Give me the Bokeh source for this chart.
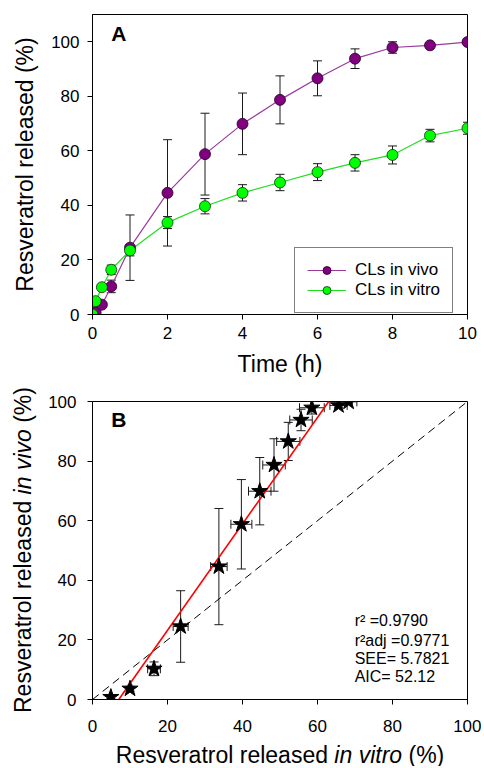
import math
from bokeh.plotting import figure
from bokeh.models import (Range1d, Whisker, TeeHead, ColumnDataSource, Label,
                          Legend, LegendItem, FixedTicker, Div)
from bokeh.layouts import column, row
from bokeh.embed import file_html
from bokeh.resources import INLINE

# ---------------- data ----------------
time_h = [0, 0.083, 0.25, 0.5, 1, 2, 3, 4, 5, 6, 7, 8, 9, 10]
invivo = [0, 0.8, 3.6, 10.3, 24.5, 44.6, 58.8, 69.9, 78.7, 86.6, 93.8, 97.9, 98.7, 99.9]
invivo_sd = [0, 0.5, 0.8, 2.3, 12.0, 19.5, 15.0, 11.3, 8.8, 6.4, 3.6, 2.1, 0.6, 0.5]
invitro = [0, 4.9, 10.0, 16.4, 23.5, 33.7, 39.7, 44.6, 48.4, 52.2, 55.6, 58.5, 65.6, 68.3]
invitro_sd = [0, 0.4, 0.5, 1.7, 2.0, 2.2, 2.8, 3.0, 3.0, 3.1, 3.0, 3.3, 2.3, 2.2]

fit_x = [7.0, 63.0]
fit_y = [0.0, 100.0]
ident_x = [0, 100]
ident_y = [0, 100]

stats_lines = ["r\u00b2 =0.9790", "r\u00b2adj =0.9771", "SEE= 5.7821", "AIC= 52.12"]
stats_y = [26.5, 19.8, 13.8, 7.7]

yticks = [0, 20, 40, 60, 80, 100]
xticks_a = [0, 2, 4, 6, 8, 10]
xticks_b = [0, 20, 40, 60, 80, 100]

FONT = "Liberation Sans"
TICK_FS = "17px"
LAB_FS = 23
PURPLE = "#800080"
GREEN = "#00ff00"
ERR = "#1a1a1a"

# Arial / Liberation Sans advance widths (per 1000 em)
CW = {"R": 722, "e": 556, "s": 500, "v": 500, "r": 333, "a": 556, "t": 278,
      "o": 556, "l": 222, "d": 556, "i": 222, "n": 556, " ": 278, "(": 333,
      ")": 333, "%": 889}


def tw(s, size=LAB_FS):
    return sum(CW.get(c, 556) for c in s) * size / 1000.0


def style_axes(p):
    p.grid.visible = False
    p.outline_line_color = "black"
    p.outline_line_width = 1
    p.background_fill_color = "white"
    p.border_fill_color = "white"
    for ax in p.axis:
        ax.axis_line_color = "black"
        ax.major_tick_line_color = "black"
        ax.minor_tick_line_color = None
        ax.major_tick_in = 0
        ax.major_tick_out = 5
        ax.major_label_text_font = FONT
        ax.major_label_text_font_size = TICK_FS
        ax.major_label_text_color = "black"
        ax.axis_label_text_font = FONT
        ax.axis_label_text_font_size = f"{LAB_FS}px"
        ax.axis_label_text_font_style = "normal"
        ax.axis_label_text_color = "black"


# ---------------- Panel A ----------------
pA = figure(frame_width=375, frame_height=300, x_range=Range1d(0, 10),
            y_range=Range1d(0, 110), output_backend="svg", toolbar_location=None,
            min_border_left=92, min_border_right=14, min_border_top=14,
            min_border_bottom=66)
style_axes(pA)
pA.xaxis.ticker = FixedTicker(ticks=xticks_a)
pA.yaxis.ticker = FixedTicker(ticks=yticks)
pA.xaxis.axis_label = "Time (h)"
pA.yaxis.axis_label = "Resveratrol released (%)"
pA.xaxis.major_label_standoff = 7
pA.xaxis.axis_label_standoff = 9
pA.yaxis.major_label_standoff = 8
pA.yaxis.axis_label_standoff = 10

src = ColumnDataSource(dict(
    t=time_h, vivo=invivo, vitro=invitro,
    vivo_up=[a + b for a, b in zip(invivo, invivo_sd)],
    vivo_lo=[a - b for a, b in zip(invivo, invivo_sd)],
    vitro_up=[a + b for a, b in zip(invitro, invitro_sd)],
    vitro_lo=[a - b for a, b in zip(invitro, invitro_sd)],
))

for up, lo in (("vivo_up", "vivo_lo"), ("vitro_up", "vitro_lo")):
    pA.add_layout(Whisker(base="t", upper=up, lower=lo, dimension="height",
                          source=src, line_color=ERR, line_width=1,
                          upper_head=TeeHead(size=9, line_color=ERR, line_width=1),
                          lower_head=TeeHead(size=9, line_color=ERR, line_width=1)))

lv = pA.line("t", "vivo", source=src, line_color="#9a3a9a", line_width=1.2)
lt = pA.line("t", "vitro", source=src, line_color="#22dd22", line_width=1.2)
sv = pA.scatter("t", "vivo", source=src, size=11, fill_color=PURPLE,
                line_color="#200020", line_width=0.8)
st = pA.scatter("t", "vitro", source=src, size=11, fill_color=GREEN,
                line_color="#103010", line_width=0.8)

legend = Legend(items=[LegendItem(label="CLs in vivo", renderers=[lv, sv]),
                       LegendItem(label="CLs in vitro", renderers=[lt, st])],
                location=(202, 1), orientation="vertical",
                border_line_color="black", border_line_width=1,
                background_fill_color="white", background_fill_alpha=1,
                label_text_font=FONT, label_text_font_size="17px",
                label_text_color="black",
                glyph_width=39, glyph_height=20, label_height=20,
                label_standoff=9, padding=12, spacing=0, margin=0)
pA.add_layout(legend)

pA.add_layout(Label(x=0.5, y=103.2, text="A", text_font=FONT,
                    text_font_size="21px", text_font_style="bold",
                    text_color="black",
                    text_baseline="middle", text_align="left"))

# ---------------- Panel B ----------------
FH_B = 298
B_TOP, B_BOT, B_LEFT = 21, 42, 48
pB = figure(frame_width=375, frame_height=FH_B, x_range=Range1d(0, 100),
            y_range=Range1d(0, 100), output_backend="svg", toolbar_location=None,
            min_border_left=B_LEFT, min_border_right=14, min_border_top=B_TOP,
            min_border_bottom=B_BOT)
style_axes(pB)
pB.xaxis.ticker = FixedTicker(ticks=xticks_b)
pB.yaxis.ticker = FixedTicker(ticks=yticks)
pB.xaxis.major_label_standoff = 15
pB.yaxis.major_label_standoff = 11

srcB = ColumnDataSource(dict(
    x=invitro[1:], y=invivo[1:],
    xl=[a - b for a, b in zip(invitro[1:], invitro_sd[1:])],
    xu=[a + b for a, b in zip(invitro[1:], invitro_sd[1:])],
    yl=[a - b for a, b in zip(invivo[1:], invivo_sd[1:])],
    yu=[a + b for a, b in zip(invivo[1:], invivo_sd[1:])],
))

pB.line(ident_x, ident_y, line_color="black", line_width=1, line_dash="8 5")
pB.add_layout(Whisker(base="x", upper="yu", lower="yl", dimension="height",
                      source=srcB, line_color=ERR, line_width=1,
                      upper_head=TeeHead(size=9, line_color=ERR, line_width=1),
                      lower_head=TeeHead(size=9, line_color=ERR, line_width=1)))
pB.add_layout(Whisker(base="y", upper="xu", lower="xl", dimension="width",
                      source=srcB, line_color=ERR, line_width=1,
                      upper_head=TeeHead(size=9, line_color=ERR, line_width=1),
                      lower_head=TeeHead(size=9, line_color=ERR, line_width=1)))
pB.line(fit_x, fit_y, line_color="red", line_width=1.6)
pB.scatter("x", "y", source=srcB, marker="star", size=17, fill_color="black",
           line_color="black")

pB.add_layout(Label(x=5, y=94, text="B", text_font=FONT, text_font_size="21px",
                    text_font_style="bold", text_color="black",
                    text_baseline="middle", text_align="left"))

for txt, yy in zip(stats_lines, stats_y):
    pB.add_layout(Label(x=69.9, y=yy, text=txt, text_font=FONT,
                        text_font_size="16px", text_color="black",
                        text_baseline="middle", text_align="left"))

B_H = B_TOP + FH_B + B_BOT
YL_W = 92 - B_LEFT

# y-axis title of panel B (with italic part), as rotated HTML text
ylab_html = (
    '<div style="position:absolute; left:23px; top:%dpx; '
    'transform:translate(-50%%,-50%%) rotate(-90deg); white-space:nowrap; '
    "font-family:'Liberation Sans',Arial,sans-serif; font-size:%dpx; "
    'line-height:1; color:black;">Resveratrol released <i>in vivo</i> (%%)</div>'
    % (B_TOP + FH_B // 2, LAB_FS)
)
divYL = Div(text=ylab_html, width=YL_W, height=B_H, margin=0,
            styles={"position": "relative", "overflow": "visible",
                    "margin": "0", "padding": "0"})

# x-axis title of panel B (with italic part), as SVG text pieces
XL_H = 25
pXL = figure(frame_width=375, frame_height=XL_H, x_range=Range1d(0, 100),
             y_range=Range1d(0, XL_H), output_backend="svg",
             toolbar_location=None, x_axis_location=None, y_axis_location=None,
             min_border_left=92, min_border_right=14, min_border_top=0,
             min_border_bottom=0)
pXL.grid.visible = False
pXL.outline_line_color = None
pXL.border_fill_color = "white"

sp = tw(" ")
parts = [("Resveratrol released", "normal"), ("in vitro", "italic"), ("(%)", "normal")]
total = sum(tw(s) for s, _ in parts) + 2 * sp
pos = -total / 2.0
px_per_x = 375 / 100.0
for s, fs in parts:
    pXL.add_layout(Label(x=50 + pos / px_per_x, y=12, text=s,
                         text_font=FONT, text_font_size=f"{LAB_FS}px",
                         text_font_style=fs, text_color="black",
                         text_baseline="middle", text_align="left"))
    pos += tw(s) + sp

layout = column(pA, row(divYL, pB, spacing=0), pXL, spacing=0)
open("out.html", "w").write(file_html(layout, INLINE))
